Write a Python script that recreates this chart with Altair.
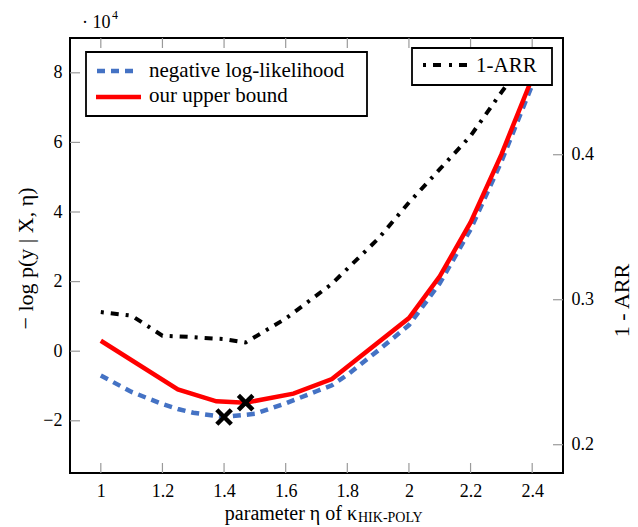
import altair as alt
import pandas as pd

# ---------------- data ----------------
eta_nll = [1.0, 1.1, 1.2, 1.25, 1.3, 1.4, 1.5, 1.6, 1.7, 1.75, 1.8, 1.9, 2.0, 2.1, 2.2, 2.3, 2.4]
nll = [-7000, -11700, -15200, -16600, -17700, -18900, -18000, -15000, -11500, -9800,
       -6800, 200, 7500, 19500, 35000, 54500, 76500]

eta_ub = [1.0, 1.25, 1.375, 1.47, 1.625, 1.75, 2.0, 2.1, 2.2, 2.3, 2.4]
ub = [3000, -11000, -14400, -14800, -12200, -8000, 9500, 21500, 37000, 56500, 78500]

eta_arr = [1.0, 1.1, 1.2, 1.3, 1.4, 1.47, 1.6, 1.75, 1.9, 2.0, 2.1, 2.2, 2.3, 2.4]
arr = [0.2915, 0.289, 0.2752, 0.2742, 0.2728, 0.2705, 0.287, 0.311, 0.342, 0.367,
       0.390, 0.413, 0.443, 0.472]

eta_min = [1.4, 1.47]
val_min = [-18900, -14800]

x_ticks = [1.0, 1.2, 1.4, 1.6, 1.8, 2.0, 2.2, 2.4]
y_ticks = [-20000, 0, 20000, 40000, 60000, 80000]
r_ticks = [0.2, 0.3, 0.4]

legend_left = ["negative log-likelihood", "our upper bound"]
legend_right = ["1-ARR"]

# ---------------- styling ----------------
PW, PH = 493, 435
FONT = "Liberation Serif"
BLUE = "#4472C4"
RED = "#FF0000"
TICK = "#9a9a9a"

xscale = alt.Scale(domain=[0.9, 2.5], nice=False, zero=False)
ylscale = alt.Scale(domain=[-35000, 90000], nice=False, zero=False)
yrscale = alt.Scale(domain=[0.1805, 0.4805], nice=False, zero=False)

xaxis = alt.Axis(values=x_ticks, labelExpr="format(datum.value, '~g')", title=None,
                 ticks=False, domain=False, grid=False, labelPadding=9)
ylaxis = alt.Axis(values=y_ticks, orient="left",
                  labelExpr="replace(format(datum.value/10000, 'd'), '-', '\u2212')",
                  title="\u2212 log p(y | X, \u03b7)", titleX=-38, titleY=220, titleAngle=270,
                  titleBaseline="alphabetic", titleAlign="center",
                  ticks=False, domain=False, grid=False, labelPadding=8)
yraxis = alt.Axis(values=r_ticks, orient="right", format=".1f",
                  title="1 - ARR", titleX=65, titleY=262, titleAngle=270,
                  titleBaseline="alphabetic", titleAlign="center",
                  ticks=False, domain=False, grid=False, labelPadding=8)


def X():
    return alt.X("eta:Q", scale=xscale, axis=xaxis)


def YL():
    return alt.Y("v:Q", scale=ylscale, axis=ylaxis)


def YR():
    return alt.Y("v:Q", scale=yrscale, axis=yraxis)


df_nll = pd.DataFrame({"eta": eta_nll, "v": nll})
df_ub = pd.DataFrame({"eta": eta_ub, "v": ub})
df_arr = pd.DataFrame({"eta": eta_arr, "v": arr})
df_min = pd.DataFrame({"eta": eta_min, "v": val_min})
df_xt = pd.DataFrame({"eta": x_ticks})
df_yt = pd.DataFrame({"v": y_ticks})
df_rt = pd.DataFrame({"v": r_ticks})
dummy = pd.DataFrame({"a": [0]})

blue = alt.Chart(df_nll).mark_line(color=BLUE, strokeWidth=4.5, strokeDash=[8, 6]).encode(x=X(), y=YL())
red = alt.Chart(df_ub).mark_line(color=RED, strokeWidth=4.5).encode(x=X(), y=YL())
mins = alt.Chart(df_min).mark_point(shape="M-1,-1L1,1M-1,1L1,-1", size=210, filled=False,
                                    color="black", strokeWidth=4.5, opacity=1).encode(x=X(), y=YL())
xt_bottom = alt.Chart(df_xt).mark_rule(color=TICK, strokeWidth=1.2).encode(
    x=X(), y=alt.value(PH - 10), y2=alt.value(PH))
xt_top = alt.Chart(df_xt).mark_rule(color=TICK, strokeWidth=1.2).encode(
    x=X(), y=alt.value(0), y2=alt.value(10))
yt_left = alt.Chart(df_yt).mark_rule(color=TICK, strokeWidth=1.2).encode(
    y=YL(), x=alt.value(0), x2=alt.value(10))

left_group = alt.layer(xt_bottom, xt_top, yt_left, blue, red, mins)

black = alt.Chart(df_arr).mark_line(color="black", strokeWidth=4, strokeDash=[3, 7, 8, 7]).encode(x=X(), y=YR())
yt_right = alt.Chart(df_rt).mark_rule(color=TICK, strokeWidth=1.2).encode(
    y=YR(), x=alt.value(PW - 10), x2=alt.value(PW))
right_group = alt.layer(yt_right, black)

base = alt.Chart(dummy)
deco = [
    # legend 1
    base.mark_rect(fill="white", stroke="black", strokeWidth=1.8).encode(
        x=alt.value(16), x2=alt.value(297), y=alt.value(14), y2=alt.value(78)),
    base.mark_rule(color=BLUE, strokeWidth=4.5, strokeDash=[8, 6]).encode(
        x=alt.value(27), x2=alt.value(67), y=alt.value(33)),
    base.mark_text(text=legend_left[0], font=FONT, fontSize=21, align="left", baseline="alphabetic").encode(
        x=alt.value(79), y=alt.value(38.5)),
    base.mark_rule(color=RED, strokeWidth=4.5).encode(
        x=alt.value(26), x2=alt.value(71), y=alt.value(59)),
    base.mark_text(text=legend_left[1], font=FONT, fontSize=21, align="left", baseline="alphabetic").encode(
        x=alt.value(79), y=alt.value(63.5)),
    # legend 2
    base.mark_rect(fill="white", stroke="black", strokeWidth=1.8).encode(
        x=alt.value(342), x2=alt.value(482), y=alt.value(10), y2=alt.value(47)),
    base.mark_rule(color="black", strokeWidth=4, strokeDash=[3, 7, 8, 8]).encode(
        x=alt.value(353), x2=alt.value(398), y=alt.value(27)),
    base.mark_text(text=legend_right[0], font=FONT, fontSize=21, align="left", baseline="alphabetic").encode(
        x=alt.value(406), y=alt.value(34)),
    # axis multiplier
    base.mark_text(text="\u00b7 10", font=FONT, fontSize=18, align="left", baseline="alphabetic").encode(
        x=alt.value(12), y=alt.value(-10)),
    base.mark_text(text="4", font=FONT, fontSize=12, align="left", baseline="alphabetic").encode(
        x=alt.value(42), y=alt.value(-19)),
    # x title
    base.mark_text(text="parameter \u03b7 of \u03ba", font=FONT, fontSize=20, align="right",
                   baseline="alphabetic").encode(x=alt.value(287), y=alt.value(482)),
    base.mark_text(text="HIK-POLY", font=FONT, fontSize=14, align="left",
                   baseline="alphabetic").encode(x=alt.value(288), y=alt.value(484)),
]

chart = alt.layer(left_group, right_group, *deco).resolve_scale(y="independent").properties(
    width=PW, height=PH,
    padding={"left": 70, "top": 38, "right": 75, "bottom": 54},
    autosize=alt.AutoSizeParams(type="none"),
).configure_view(stroke="black", strokeWidth=2).configure_axis(
    labelFont=FONT, labelFontSize=18, labelColor="black",
    titleFont=FONT, titleFontSize=22, titleColor="black", titleFontWeight="normal",
)

chart.save("out.html", embed_options={"renderer": "svg", "actions": False})
